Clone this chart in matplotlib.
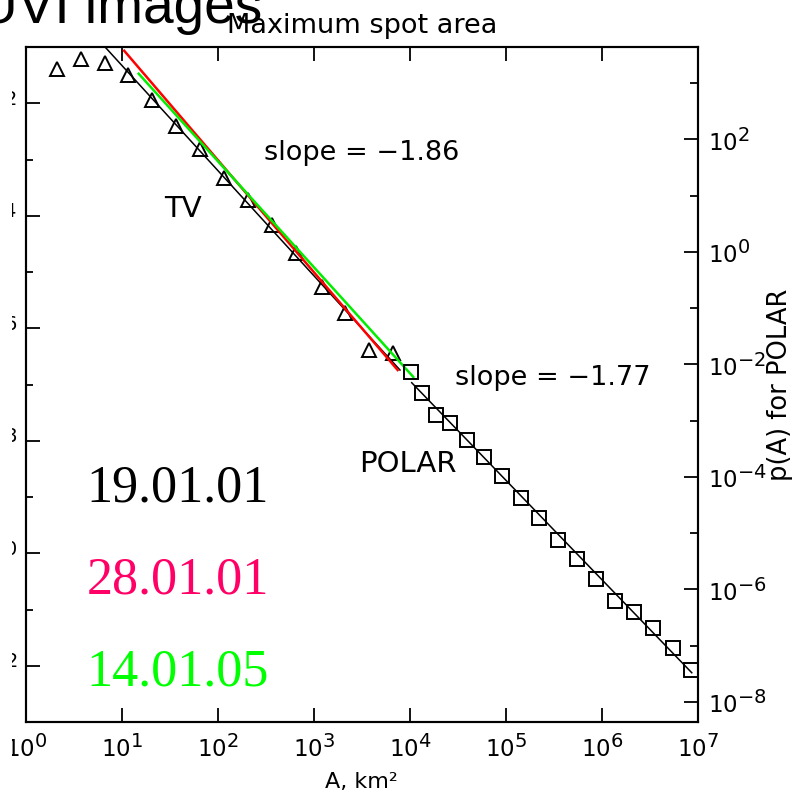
import numpy as np
import matplotlib
matplotlib.use("Agg")
import matplotlib.pyplot as plt
from matplotlib.ticker import FixedLocator, FixedFormatter, NullLocator, NullFormatter
from matplotlib.patches import Rectangle
import matplotlib._mathtext as _mt

_mt.SHRINK_FACTOR = 0.85  # larger superscripts, like the IDL labels

plt.rcParams["font.family"] = ["DejaVu Sans"]
plt.rcParams["mathtext.default"] = "regular"

# ---------------- data ----------------
tv_area = [2.10, 3.74, 6.70, 11.7, 20.8, 36.7, 65.3, 117, 208, 370, 652,
           1208, 2113, 3784, 6730]
tv_p = [4.02e-2, 6.04e-2, 5.13e-2, 3.18e-2, 1.14e-2, 3.99e-3, 1.54e-3,
        4.63e-4, 1.91e-4, 6.85e-5, 2.20e-5, 5.35e-6, 1.85e-6, 4.10e-7, 3.59e-7]

polar_area = [1.02e4, 1.35e4, 1.86e4, 2.62e4, 3.91e4, 5.92e4, 9.06e4, 1.43e5,
              2.23e5, 3.52e5, 5.53e5, 8.67e5, 1.38e6, 2.17e6, 3.43e6, 5.46e6,
              8.45e6]
polar_p = [7.26e-3, 3.08e-3, 1.26e-3, 9.23e-4, 4.54e-4, 2.23e-4, 1.04e-4,
           4.23e-5, 1.84e-5, 7.57e-6, 3.48e-6, 1.53e-6, 6.31e-7, 4.02e-7,
           2.04e-7, 9.0e-8, 3.70e-8]

# fitted power-law lines (end points)
tv_fit_area = [6.70, 7890]
tv_fit_p = [1.0e-1, 1.81e-7]
red_fit_area = [10.6, 7460]
red_fit_p = [8.59e-2, 1.81e-7]
green_fit_area = [15.0, 10860]
green_fit_p = [3.35e-2, 1.36e-7]
polar_fit_area = [1.045e4, 8.61e6]
polar_fit_p = [4.74e-3, 3.31e-8]

x_ticks = [1e0, 1e1, 1e2, 1e3, 1e4, 1e5, 1e6, 1e7]
x_ticklabels = [r"$10^{0}$", r"$10^{1}$", r"$10^{2}$", r"$10^{3}$",
                r"$10^{4}$", r"$10^{5}$", r"$10^{6}$", r"$10^{7}$"]
left_major = [1e-2, 1e-4, 1e-6, 1e-8, 1e-10, 1e-12]
left_labels = [r"$10^{-2}$", r"$10^{-4}$", r"$10^{-6}$", r"$10^{-8}$",
               r"$10^{-10}$", r"$10^{-12}$"]
left_minor = [1e-3, 1e-5, 1e-7, 1e-9, 1e-11]
right_major = [1e2, 1e0, 1e-2, 1e-4, 1e-6, 1e-8]
right_labels = [r"$10^{2}$", r"$10^{0}$", r"$10^{-2}$", r"$10^{-4}$",
                r"$10^{-6}$", r"$10^{-8}$"]
right_minor = [1e3, 1e1, 1e-1, 1e-3, 1e-5, 1e-7]

dates = ["19.01.01", "28.01.01", "14.01.05"]
date_colors = ["#000000", "#FF0066", "#00FF00"]

# ---------------- figure ----------------
W, H = 795, 799
fig = plt.figure(figsize=(W / 100, H / 100), dpi=100)
L, R, T, B = 25.7, 698.0, 47.0, 722.0
ax = fig.add_axes([L / W, 1 - B / H, (R - L) / W, (B - T) / H])
ax2 = ax.twinx()

for a in (ax, ax2):
    for s in a.spines.values():
        s.set_linewidth(1.5)

ax.set_xscale("log")
ax.set_yscale("log")
ax2.set_yscale("log")
ax.set_xlim(1e0, 1e7)
ax.set_ylim(1e-13, 1e-1)
ax2.set_ylim(10 ** -8.356, 10 ** 3.644)

# TV (left axis)
ax.plot(tv_area, tv_p, linestyle="none", marker="^", markersize=10,
        markerfacecolor="none", markeredgecolor="black", markeredgewidth=1.4,
        zorder=3)
ax.plot(tv_fit_area, tv_fit_p, color="black", linewidth=1.1, zorder=2)
ax.plot(red_fit_area, red_fit_p, color="#FF0000", linewidth=1.8, zorder=4)
ax.plot(green_fit_area, green_fit_p, color="#00EE00", linewidth=1.8, zorder=5)

# POLAR (right axis)
ax2.plot(polar_area, polar_p, linestyle="none", marker="s", markersize=10,
         markerfacecolor="none", markeredgecolor="black", markeredgewidth=1.4,
         zorder=3)
ax2.plot(polar_fit_area, polar_fit_p, color="black", linewidth=1.1, zorder=2)

# ticks
ax.xaxis.set_major_locator(FixedLocator(x_ticks))
ax.xaxis.set_major_formatter(FixedFormatter(x_ticklabels))
ax.xaxis.set_minor_locator(NullLocator())
ax.xaxis.set_minor_formatter(NullFormatter())
ax.yaxis.set_major_locator(FixedLocator(left_major))
ax.yaxis.set_major_formatter(FixedFormatter(left_labels))
ax.yaxis.set_minor_locator(FixedLocator(left_minor))
ax.yaxis.set_minor_formatter(NullFormatter())
ax2.yaxis.set_major_locator(FixedLocator(right_major))
ax2.yaxis.set_major_formatter(FixedFormatter(right_labels))
ax2.yaxis.set_minor_locator(FixedLocator(right_minor))
ax2.yaxis.set_minor_formatter(NullFormatter())

ax.tick_params(axis="x", which="major", direction="in", top=True, bottom=True,
               length=10, width=1.3, labelsize=16.5, pad=9)
ax.tick_params(axis="y", which="major", direction="in", left=True, right=False,
               length=10, width=1.3, labelsize=16.5, pad=6)
ax.tick_params(axis="y", which="minor", direction="in", left=True, right=False,
               length=5, width=1.3)
ax2.tick_params(axis="y", which="major", direction="in", right=True,
                length=10, width=1.3, labelsize=16.5, pad=7)
ax2.tick_params(axis="y", which="minor", direction="in", right=True,
                length=6, width=1.3)

ax.set_xlabel("A, km²", fontsize=16, labelpad=7)
ax2.set_ylabel("p(A) for POLAR", fontsize=18.5, labelpad=0)
ax.set_title("Maximum spot area", fontsize=19.5, pad=10)

# annotations (axes fraction)
ax.text(0.4995, 0.8326, "slope = \u22121.86", transform=ax.transAxes,
        fontsize=19.5, ha="center", va="baseline")
ax.text(0.7843, 0.4993, "slope = \u22121.77", transform=ax.transAxes,
        fontsize=19.5, ha="center", va="baseline")
ax.text(0.2333, 0.748, "TV", transform=ax.transAxes, fontsize=21,
        ha="center", va="baseline")
ax.text(0.568, 0.370, "POLAR", transform=ax.transAxes, fontsize=21,
        ha="center", va="baseline")

# white band left of the cropped plot image
fig.patches.append(Rectangle((0, 0), 11.5 / W, 1, transform=fig.transFigure,
                             facecolor="white", edgecolor="none", zorder=2))

# slide overlay texts
for d, c, yb in zip(dates, date_colors, [502, 593, 685]):
    fig.text(177.5 / W, 1 - yb / H, d, color=c, fontsize=37.5,
             family=["Liberation Serif", "DejaVu Serif"], ha="center",
             va="baseline", zorder=3)
fig.text(-22 / W, 1 - 23 / H, "UVI images", fontsize=39.6,
         family=["Liberation Sans", "DejaVu Sans"], ha="left", va="baseline",
         zorder=3)

fig.savefig("out.png", dpi=100)
